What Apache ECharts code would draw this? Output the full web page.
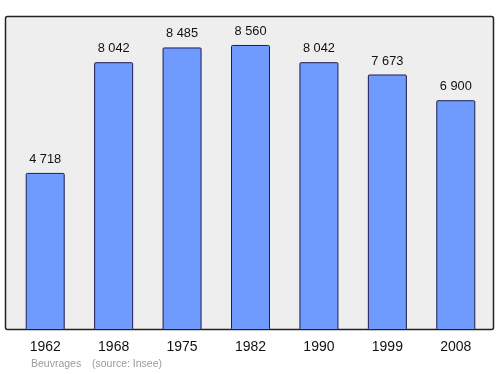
<!DOCTYPE html>
<html><head><meta charset="utf-8">
<script src="https://cdn.jsdelivr.net/npm/echarts@6/dist/echarts.min.js"></script>
<style>html,body{margin:0;padding:0;background:#fff}#c{width:500px;height:374px}</style>
</head><body><div id="c"></div>
<script>
var years = ['1962','1968','1975','1982','1990','1999','2008'];
var population = [4718, 8042, 8485, 8560, 8042, 7673, 6900];
var placeName = 'Beuvrages';
var sourceText = '(source: Insee)';

function fmt(v){ return String(v).replace(/\B(?=(\d{3})+(?!\d))/g, ' '); }

var chart = echarts.init(document.getElementById('c'), null, {renderer:'canvas'});
chart.setOption({
  animation: false,
  backgroundColor: '#ffffff',
  textStyle: { fontFamily: 'Liberation Sans, Arial, sans-serif' },
  graphic: [
    { type: 'rect', z: -10, shape: { x: 5.5, y: 16.5, width: 488, height: 313, r: 2 },
      style: { fill: '#eeeeee', stroke: '#222222', lineWidth: 1.5 } },
    { type: 'text', left: 31, top: 359, style: { text: placeName, fill: '#9a9a9a', font: '10.5px Liberation Sans, Arial, sans-serif' } },
    { type: 'text', left: 92, top: 359, style: { text: sourceText, fill: '#9a9a9a', font: '10.5px Liberation Sans, Arial, sans-serif' } }
  ],
  grid: { left: 11, right: 10, top: 16, bottom: 44, containLabel: false },
  xAxis: {
    type: 'category', data: years,
    axisLine: { show: false }, axisTick: { show: false },
    axisLabel: { color: '#111', fontSize: 14, margin: 10, fontFamily: 'Liberation Sans, Arial, sans-serif' }
  },
  yAxis: {
    type: 'value', min: 0, max: 9430,
    show: false, splitLine: { show: false }
  },
  series: [{
    type: 'bar', data: population, barWidth: 39,
    itemStyle: { color: '#6f9bff', borderColor: '#1c1c50', borderWidth: 1, borderRadius: 1 },
    label: { show: true, position: 'top', distance: 7, color: '#111', fontSize: 12.8,
      fontFamily: 'Liberation Sans, Arial, sans-serif',
      formatter: function(p){ return fmt(p.value); } }
  }]
});
</script></body></html>
